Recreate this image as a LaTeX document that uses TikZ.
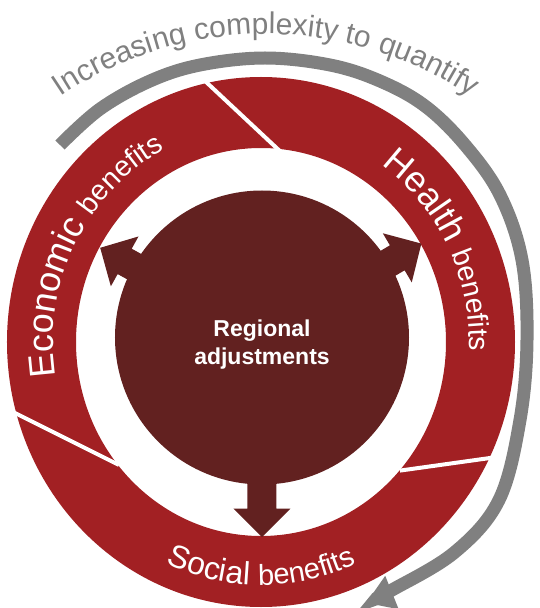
\documentclass[tikz,border=0pt]{standalone}
\usepackage{fontspec}
\setmainfont{Liberation Sans}
\usetikzlibrary{decorations.text,arrows.meta}
\definecolor{ringred}{RGB}{162,32,35}
\definecolor{darkc}{RGB}{98,33,32}
\definecolor{grayc}{RGB}{128,128,128}
\newcommand\fbig{\fontsize{36pt}{36pt}\selectfont\color{white}}
\newcommand\fmed{\fontsize{28.5pt}{28.5pt}\selectfont\color{white}}
\newcommand\fsocA{\fontsize{32pt}{32pt}\selectfont\color{white}}
\newcommand\fsocB{\fontsize{29pt}{29pt}\selectfont\color{white}}
\newcommand\ftop{\fontsize{30pt}{30pt}\selectfont\color{grayc}}
\tikzset{
  divider/.style={white, line width=4pt},
  grayband/.style={grayc, line width=13pt, line cap=butt,
    -{Triangle[length=28pt,width=34pt]}},
  ringtext/.style={decorate},
  arrowshape/.style={fill=darkc, draw=none}
}
\begin{document}
\begin{tikzpicture}[x=1pt,y=1pt]
\useasboundingbox (-261,-266) rectangle (278,342);
% gray band with arrow
\coordinate (gs) at (-201,197);
\coordinate (ge) at (105,-261);
\draw[grayband] plot[smooth, tension=0.6] coordinates {
  (gs) (-161,233) (-111,261) (-61,277) (4,284) (69,277) (119,261)
  (164,236) (204,197) (239,147) (261,82) (266,2) (259,-78) (238,-158)
  (194,-210) (131,-248) (ge)};
% top text
\path[ringtext, decoration={text along path, text align=center,
  text={|\ftop|Increasing complexity to quantify}}]
  (5,-59) ++(135:367) arc[start angle=135, end angle=45, radius=367];
% red ring
\fill[ringred, even odd rule] (0,0) ellipse[x radius=254, y radius=265]
  (0,0) ellipse[x radius=185, y radius=194];
\coordinate (d1a) at (-57,262); \coordinate (d1b) at (22,188);
\coordinate (d2a) at (-248,-70); \coordinate (d2b) at (-142,-123);
\coordinate (d3a) at (139,-128.6); \coordinate (d3b) at (234,-115.3);
\draw[divider] (d1a) -- (d1b);
\draw[divider] (d2a) -- (d2b);
\draw[divider] (d3a) -- (d3b);
% ring texts
\path[ringtext, decoration={text along path, text align=center,
  text={|\fbig|Economic |\fmed|benefits}}]
  (208:208 and 217) arc[start angle=208, end angle=98, x radius=208, y radius=217];
\path[ringtext, decoration={text along path, text align=center,
  text={|\fbig|Health |\fmed|benefits}}]
  (80:208 and 217) arc[start angle=80, end angle=-27, x radius=208, y radius=217];
\path[ringtext, decoration={text along path, text align=center,
  text={|\fsocA|Social |\fsocB|benefits}}]
  (238:233 and 243) arc[start angle=238, end angle=302, x radius=233, y radius=243];
% dark circle
\fill[darkc] (1,4.5) circle[radius=147];
\begin{scope}[shift={(1,4.5)}, rotate=151]
  \fill[arrowshape] (120,-14.5) -- (157,-14.5) -- (157,-28.5) -- (185,0)
    -- (157,28.5) -- (157,14.5) -- (120,14.5) -- cycle;
\end{scope}
\begin{scope}[shift={(1,4.5)}, rotate=30.5]
  \fill[arrowshape] (120,-14.5) -- (157,-14.5) -- (157,-28.5) -- (185,0)
    -- (157,28.5) -- (157,14.5) -- (120,14.5) -- cycle;
\end{scope}
\begin{scope}[shift={(1,4.5)}, rotate=-90]
  \fill[arrowshape] (120,-14.5) -- (171,-14.5) -- (171,-28.5) -- (199.5,0)
    -- (171,28.5) -- (171,14.5) -- (120,14.5) -- cycle;
\end{scope}
\node[text=white, font=\fontsize{23pt}{28pt}\selectfont\bfseries, align=center]
  (center) at (1,-3) {Regional\\adjustments};
\end{tikzpicture}
\end{document}
